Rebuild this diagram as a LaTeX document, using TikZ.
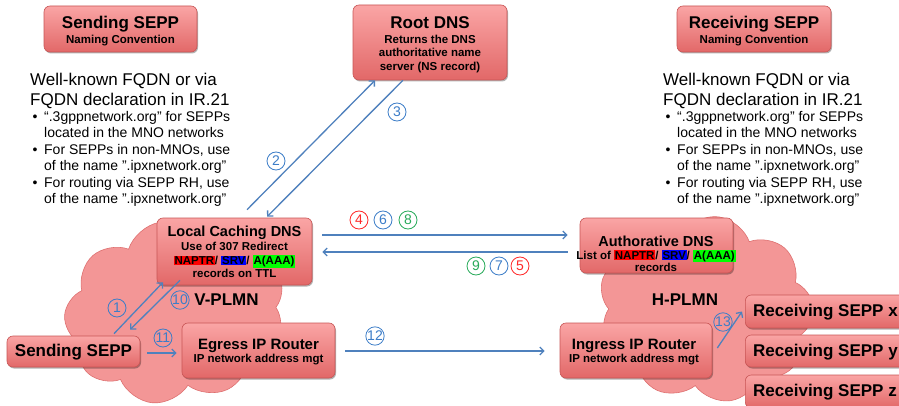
\documentclass[tikz,border=0pt]{standalone}
\usepackage{fontspec}
\setmainfont{Liberation Sans}
\usetikzlibrary{shapes.symbols,shadows,arrows.meta}
\definecolor{arrblue}{RGB}{79,129,189}
\definecolor{lblblue}{RGB}{60,125,200}
\definecolor{lblred}{RGB}{255,40,40}
\definecolor{lblgreen}{RGB}{40,170,90}
\definecolor{boxtop}{RGB}{250,165,165}
\definecolor{boxbot}{RGB}{226,104,104}
\definecolor{boxline}{RGB}{200,85,85}
\definecolor{cloudfill}{RGB}{243,150,150}
\definecolor{cloudline}{RGB}{222,112,112}
\newcommand\myhl[2]{{\setlength{\fboxsep}{0.8pt}\colorbox{#1}{#2}}}
\newcommand\recs{\myhl{red}{NAPTR}/ \myhl{blue}{SRV}/ \myhl{green}{A(AAA)}}
\newcommand\bl{\makebox[14pt][l]{\hspace{2.5pt}•}}
\newcommand\ind{\hspace*{14pt}}
\begin{document}
\begin{tikzpicture}[x=1pt,y=-1pt,
  box/.style={rounded corners=6pt, draw=boxline, line width=0.6pt, top color=boxtop, bottom color=boxbot,
    drop shadow={shadow xshift=1pt, shadow yshift=-1.5pt, opacity=0.3, fill=black}, inner sep=0pt},
  big/.style={inner sep=0pt, font=\fontsize{17}{19}\selectfont\bfseries},
  txt/.style={align=center, inner sep=0pt, font=\fontsize{11.5}{13.5}\selectfont\bfseries},
  head/.style={align=left, inner sep=0pt, anchor=north west, font=\fontsize{17}{20}\selectfont},
  bul/.style={align=left, inner sep=0pt, anchor=north west, font=\fontsize{14}{16.5}\selectfont},
  arr/.style={draw=arrblue, line width=1.3pt, -{Straight Barb[length=4pt,width=8pt]}},
  lbl/.style={circle, draw=#1, text=#1, line width=0.8pt, minimum size=18pt, inner sep=0pt, font=\fontsize{14}{14}\selectfont},
  cloudy/.style={cloud, cloud puffs=9, cloud puff arc=125, draw=cloudline, fill=cloudfill, line width=0.6pt, inner sep=0pt}]
\useasboundingbox (0,0) rectangle (899,406);
\fill[white] (0,0) rectangle (899,406);

% clouds
\node[cloudy, minimum width=222pt, minimum height=182pt, rotate=10] (vcloud) at (175,312) {};
\node[cloudy, minimum width=216pt, minimum height=186pt, rotate=-8] (hcloud) at (706,309) {};

% naming convention boxes
\node[box, minimum width=153pt, minimum height=46pt] (sendnc) at (120.5,29) {};
\node[txt] (sendnct) at (120.5,31) {{\fontsize{17}{19}\selectfont Sending SEPP}\\[1pt] Naming Convention};
\node[box, minimum width=154pt, minimum height=46pt] (recvnc) at (754,29) {};
\node[txt] (recvnct) at (754,31) {{\fontsize{17}{19}\selectfont Receiving SEPP}\\[1pt] Naming Convention};
\node[box, minimum width=154pt, minimum height=75pt] (rdns) at (430,42.5) {};
\node[txt] (rdnst) at (430,45) {{\fontsize{17}{19}\selectfont Root DNS}\\[1pt] Returns the DNS\\ authoritative name\\ server (NS record)};

% text blocks
\node[head] (lhead) at (30,72.5) {Well-known FQDN or via\\FQDN declaration in IR.21};
\node[bul] (lbul) at (30,111) {\bl“.3gppnetwork.org” for SEPPs\\ \ind located in the MNO networks\\ \bl For SEPPs in non-MNOs, use\\ \ind of the name ".ipxnetwork.org"\\ \bl For routing via SEPP RH, use\\ \ind of the name ".ipxnetwork.org"};
\node[head] (rhead) at (663,72.5) {Well-known FQDN or via\\FQDN declaration in IR.21};
\node[bul] (rbul) at (663,111) {\bl“.3gppnetwork.org” for SEPPs\\ \ind located in the MNO networks\\ \bl For SEPPs in non-MNOs, use\\ \ind of the name ".ipxnetwork.org"\\ \bl For routing via SEPP RH, use\\ \ind of the name ".ipxnetwork.org"};

% V-PLMN boxes
\node[box, minimum width=155pt, minimum height=67pt] (ldns) at (234.5,251.5) {};
\node[txt] (ldnst) at (234.5,252) {{\fontsize{14.5}{16}\selectfont Local Caching DNS}\\[1pt] Use of 307 Redirect\\ \recs\\ records on TTL};
\node[box, minimum width=133pt, minimum height=31pt] (ssepp) at (73.5,351.5) {};
\node[big] (sseppt) at (73.5,352) {Sending SEPP};
\node[box, minimum width=153pt, minimum height=55pt] (egress) at (258.5,350.5) {};
\node[txt] (egresst) at (258.5,352) {{\fontsize{15}{17}\selectfont Egress IP Router}\\ IP network address mgt};
\node[big] (vplmn) at (226.5,300) {V-PLMN};

% H-PLMN boxes
\node[box, minimum width=153pt, minimum height=55pt] (adns) at (656.5,245.5) {};
\node[txt] (adnst) at (656,254) {{\fontsize{14.5}{16}\selectfont Authorative DNS}\\[-1pt] List of \recs\\[-1pt] records};
\node[box, minimum width=152pt, minimum height=55pt] (ingress) at (636,350.5) {};
\node[txt] (ingresst) at (634,352) {{\fontsize{15}{17}\selectfont Ingress IP Router}\\ IP network address mgt};
\node[big] (hplmn) at (685,300) {H-PLMN};
\node[box, minimum width=170pt, minimum height=33pt, anchor=west] (rx) at (745,311.5) {};
\node[big, anchor=west] (rxt) at (753,312) {Receiving SEPP x};
\node[box, minimum width=170pt, minimum height=32pt, anchor=west] (ry) at (745,351) {};
\node[big, anchor=west] (ryt) at (753,352) {Receiving SEPP y};
\node[box, minimum width=170pt, minimum height=33pt, anchor=west] (rz) at (745,391.5) {};
\node[big, anchor=west] (rzt) at (753,392) {Receiving SEPP z};

% arrows
\draw[arr] ([xshift=12.5pt,yshift=8pt]ldns.north) -- ([xshift=-55pt]rdns.south);
\draw[arr] ([xshift=-27pt]rdns.south) -- ([xshift=32.5pt,yshift=1pt]ldns.north);
\draw[arr] ([xshift=40.5pt,yshift=2pt]ssepp.north) -- ([xshift=-71.5pt,yshift=3pt]ldns.south);
\draw[arr] ([xshift=-54.5pt,yshift=5pt]ldns.south) -- ([xshift=56.5pt,yshift=6pt]ssepp.north);
\draw[arr] ([xshift=7pt,yshift=-1.5pt]ssepp.east) -- ([xshift=-5pt,yshift=-2.5pt]egress.west);
\draw[arr] ([xshift=10pt,yshift=16.5pt]ldns.east) -- ([xshift=-12pt,yshift=10.5pt]adns.west);
\draw[arr] ([xshift=-12pt,yshift=-6.5pt]adns.west) -- ([xshift=10pt,yshift=-0.5pt]ldns.east);
\draw[arr] ([xshift=10pt,yshift=-0.5pt]egress.east) -- ([xshift=-15pt,yshift=-0.5pt]ingress.west);
\draw[arr] ([xshift=5pt,yshift=2.5pt]ingress.east) -- ([xshift=-3pt]rx.west);

% step labels
\node[lbl=lblblue] (n1) at (117,308) {1};
\node[lbl=lblblue] (n2) at (276,161) {2};
\node[lbl=lblblue] (n3) at (397,112) {3};
\node[lbl=lblred] (n4) at (359,220) {4};
\node[lbl=lblblue] (n6) at (383,220) {6};
\node[lbl=lblgreen] (n8) at (408,220) {8};
\node[lbl=lblgreen] (n9) at (476,266) {9};
\node[lbl=lblblue] (n7) at (499,266) {7};
\node[lbl=lblred] (n5) at (520,266) {5};
\node[lbl=lblblue] (n10) at (180,300) {10};
\node[lbl=lblblue] (n11) at (163,338) {11};
\node[lbl=lblblue] (n12) at (375,336) {12};
\node[lbl=lblblue] (n13) at (723,322) {13};
\end{tikzpicture}
\end{document}
